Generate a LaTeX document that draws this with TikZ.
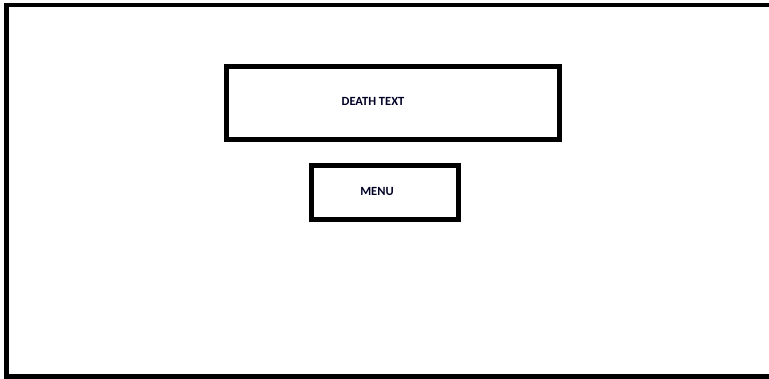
\documentclass[tikz,border=0pt]{standalone}
\usepackage{fontspec}
\setmainfont{Carlito}
\begin{document}
\begin{tikzpicture}[x=1pt,y=-1pt,
  framebox/.style={draw=black,line width=5pt,fill=white},
  lbl/.style={font=\bfseries\fontsize{12.5}{14}\selectfont,text=black!85!blue,inner sep=0pt}]
\useasboundingbox (0,0) rectangle (769,378);
\clip (0,0) rectangle (769,378);
\fill[white] (0,0) rectangle (769,378);
\draw[line width=4.5pt] (780,5) -- (6.5,5) -- (6.5,376.3) -- (780,376.3);
\draw[framebox] (226,66.3) rectangle (559,139) node[midway] (death) {};
\draw[framebox] (311,165.5) rectangle (458.5,219) node[midway] (menu) {};
\node[lbl] (deathtxt) at (373,101.5) {DEATH TEXT};
\node[lbl] (menutxt) at (377,191.5) {MENU};
\end{tikzpicture}
\end{document}
